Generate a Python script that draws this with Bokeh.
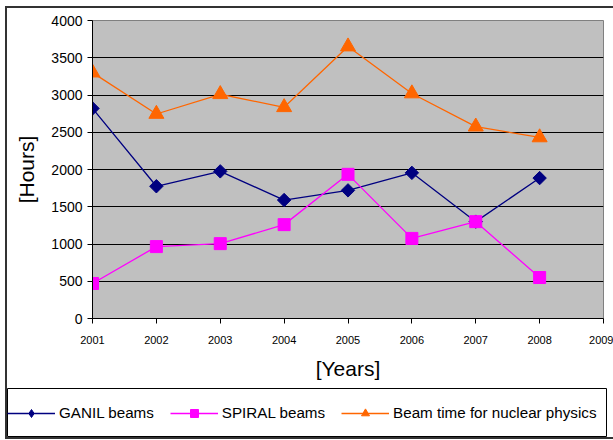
import math
from bokeh.plotting import figure
from bokeh.layouts import column
from bokeh.models import FixedTicker, Legend, LegendItem, Range1d
from bokeh.embed import file_html
from bokeh.resources import INLINE

years = [2001, 2002, 2003, 2004, 2005, 2006, 2007, 2008]
ganil = [2820, 1775, 1975, 1590, 1720, 1955, 1300, 1885]
spiral = [470, 965, 1005, 1260, 1935, 1075, 1300, 550]
beamtime = [3300, 2745, 3010, 2835, 3650, 3020, 2575, 2430]
x_ticks = [2001, 2002, 2003, 2004, 2005, 2006, 2007, 2008, 2009]
y_ticks = [0, 500, 1000, 1500, 2000, 2500, 3000, 3500, 4000]
names = ["GANIL beams", "SPIRAL beams", "Beam time for nuclear physics"]
colors = ["#000080", "#FF00FF", "#FF6600"]
markers = ["square", "square", "triangle"]
msizes = [9.5, 12, 15]
mangles = [math.pi / 4, 0, 0]
legend_markers = ["diamond", "square", "triangle"]
legend_msizes = [13, 12, 15]

FONT = "Liberation Sans"

p = figure(width=606, height=380, output_backend="svg", toolbar_location=None,
           x_range=Range1d(2001, 2009), y_range=Range1d(0, 4000),
           min_border_left=85, min_border_top=12, min_border_right=10,
           min_border_bottom=70,
           background_fill_color="#C0C0C0", border_fill_color="white")

p.outline_line_color = "#808080"
p.xgrid.visible = False
p.ygrid.ticker = FixedTicker(ticks=y_ticks)
p.ygrid.grid_line_color = "black"
p.ygrid.grid_line_width = 1

p.xaxis.ticker = FixedTicker(ticks=x_ticks)
p.yaxis.ticker = FixedTicker(ticks=y_ticks)
for ax in (p.xaxis[0], p.yaxis[0]):
    ax.axis_line_color = "black"
    ax.major_tick_line_color = "black"
    ax.minor_tick_line_color = None
    ax.major_tick_in = 0
    ax.major_tick_out = 5
    ax.major_label_text_font = FONT
    ax.axis_label_text_font = FONT
    ax.axis_label_text_font_style = "normal"
    ax.axis_label_text_font_size = "21px"
    ax.axis_label_text_color = "black"
    ax.major_label_text_color = "black"

p.xaxis.axis_label = "[Years]"
p.yaxis.axis_label = "[Hours]"
p.xaxis.major_label_text_font_size = "11px"
p.yaxis.major_label_text_font_size = "14px"
p.xaxis.major_label_standoff = 12
p.yaxis.major_label_standoff = 5
p.xaxis.axis_label_standoff = 10
p.yaxis.axis_label_standoff = 10

series = [ganil, spiral, beamtime]
for vals, c, mk, ms, ang in zip(series, colors, markers, msizes, mangles):
    p.line(years, vals, line_color=c, line_width=1.3)
    p.scatter(years, vals, marker=mk, size=ms, angle=ang,
              fill_color=c, line_color=c)

# legend panel (boxed strip below the chart); its ranges keep the proxy
# renderers out of view so only the legend entries show
lg = figure(width=600, height=49, output_backend="svg", toolbar_location=None,
            x_range=Range1d(0, 1), y_range=Range1d(-2, -1),
            min_border=0, min_border_left=0, min_border_right=0,
            min_border_top=0, min_border_bottom=0,
            x_axis_location=None, y_axis_location=None,
            background_fill_color="white", border_fill_color="white")
lg.grid.visible = False
lg.outline_line_color = "black"
lg.outline_line_width = 1

for fig in (p, lg):
    try:
        fig.frame_align = False
    except Exception:
        pass

items = []
for name, vals, c, mk, ms in zip(names, series, colors, legend_markers, legend_msizes):
    rl = lg.line(years, vals, line_color=c, line_width=1.3)
    rm = lg.scatter(years, vals, marker=mk, size=ms,
                    fill_color=c, line_color=c)
    items.append(LegendItem(label=name, renderers=[rl, rm]))

legend = Legend(items=items, orientation="horizontal", location="left",
                label_text_font=FONT, label_text_font_size="15.2px",
                label_text_color="black",
                glyph_width=48, label_standoff=4, spacing=16, padding=10,
                margin=0, border_line_color=None, background_fill_alpha=0)
lg.add_layout(legend, "center")

layout = column(p, lg, spacing=0,
                styles={"border-left": "2px solid #333333",
                        "border-top": "2px solid #333333",
                        "border-bottom": "2px solid #333333",
                        "margin-left": "5px", "margin-top": "6px"})

open("out.html", "w").write(file_html(layout, INLINE))
